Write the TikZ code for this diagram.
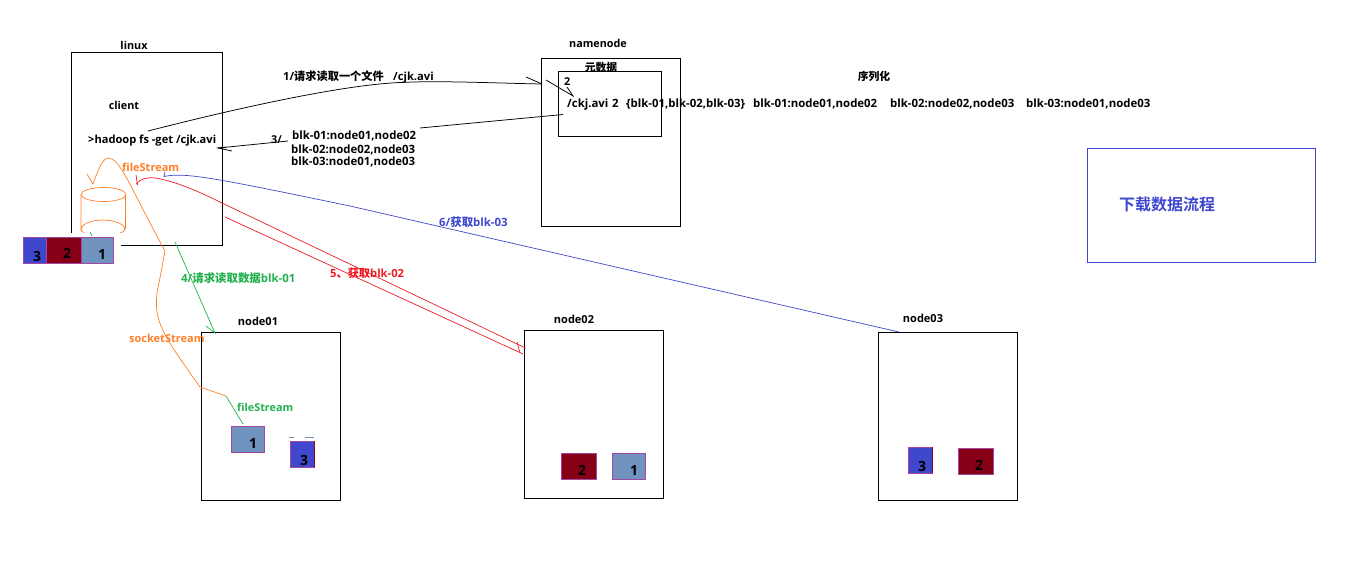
\documentclass[tikz,border=0pt]{standalone}
\usepackage{fontspec}
\setmainfont{Open Sans}[BoldFont={Open Sans Bold}]
\newfontfamily\cjk{Noto Sans CJK SC Bold}
\definecolor{blueb}{RGB}{63,72,204}
\definecolor{redb}{RGB}{136,0,21}
\definecolor{steelb}{RGB}{112,146,190}
\definecolor{purp}{RGB}{163,73,164}
\definecolor{oran}{RGB}{255,127,39}
\definecolor{grn}{RGB}{34,177,76}
\definecolor{redl}{RGB}{237,28,36}
\newcommand{\fs}[1]{\fontsize{#1}{12}\selectfont}
\tikzset{x=1pt,y=-1pt,
 box/.style={draw=black,line width=0.9pt,fill=none,inner sep=0,anchor=north west},
 blk/.style={draw=purp,line width=0.8pt,inner sep=0,anchor=north west},
 digit/.style={font=\bfseries\fontsize{14}{14}\selectfont,inner sep=0,text=black},
 lab/.style={font=\bfseries\fontsize{10.8}{12}\selectfont,inner sep=0,anchor=west,align=left},
 thin1/.style={line width=0.75pt},
 col/.style={line width=0.7pt},
}
\newcommand{\boxat}[5]{\node[#1,minimum width=#4pt,minimum height=#5pt] (#2) at #3 {};}
\begin{document}
\begin{tikzpicture}
\useasboundingbox (0,0) rectangle (1364,570);
% boxes
\boxat{box}{linux}{(70.5,51.5)}{151}{193}
\fill[white] (60,232.5) rectangle (120.5,250);
\boxat{box}{nn}{(540.5,57.5)}{139}{168}
\boxat{box}{meta}{(557.5,70.5)}{103}{65}
\boxat{box}{n1}{(200.5,331.5)}{139}{168}
\boxat{box}{n2}{(523.5,329.5)}{139}{168}
\boxat{box}{n3}{(877.5,331.5)}{139}{168}
\node[draw=blueb,line width=0.75pt,inner sep=0,anchor=north west,minimum width=228pt,minimum height=114pt] (title) at (1086.5,147.5) {};
% labels
\node[lab,anchor=center] (tlinux) at (134,45) {linux};
\node[lab,anchor=center] (tclient) at (124,105) {client};
\node[lab,font=\bfseries\fs{11.1}] (tcmd) at (88,141) {>hadoop fs -get /cjk.avi};
\node[lab,anchor=center] (tnn) at (598,43.5) {namenode};
\node[lab,anchor=center] (tmeta) at (601,67) {\cjk 元数据};
\node[lab] (t2) at (564,82) {2};
\node[lab,font=\bfseries\fs{11.4}] (tmain) at (567,105) {\makebox[45pt][l]{/ckj.avi}\makebox[14pt][l]{2}\makebox[127pt][l]{\{blk-01,blk-02,blk-03\}}\makebox[137pt][l]{blk-01:node01,node02}\makebox[136pt][l]{blk-02:node02,node03}blk-03:node01,node03};
\node[lab,anchor=center] (tser) at (874,76) {\cjk 序列化};
\node[lab,font=\bfseries\fs{11.2}] (t1) at (283,77) {\makebox[110pt][l]{1/{\cjk 请求读取一个文件}}/cjk.avi};
\node[lab] (t3) at (271,140) {3/};
\node[lab,font=\bfseries\fs{11.4}] (tb1) at (292,136) {blk-01:node01,node02};
\node[lab,font=\bfseries\fs{11.4}] (tb2) at (291,150) {blk-02:node02,node03};
\node[lab,font=\bfseries\fs{11.4}] (tb3) at (291,162) {blk-03:node01,node03};
\node[lab,text=blueb,font=\cjk\fontsize{16}{16}\selectfont] (ttitle) at (1119,204) {下载数据流程};
\node[lab,text=oran,font=\bfseries\fs{11}] (tfs) at (122,167) {fileStream};
\node[lab,text=oran,font=\bfseries\fs{11}] (tss) at (129,338) {socketStream};
\node[lab,text=grn,font=\bfseries\fs{11.4}] (t4) at (181,278) {4/{\cjk 请求读取数据}blk-01};
\node[lab,text=grn] (tfs2) at (237,407) {fileStream};
\node[lab,text=redl,font=\bfseries\fs{11.2}] (t5) at (330,273) {5{\cjk 、获取}blk-02};
\node[lab,text=blueb,font=\bfseries\fs{11.4}] (t6) at (439,222) {6/{\cjk 获取}blk-03};
\node[lab,anchor=center,font=\bfseries\fs{11}] (tn1) at (258,321) {node01};
\node[lab,anchor=center,font=\bfseries\fs{11}] (tn2) at (574,319) {node02};
\node[lab,anchor=center,font=\bfseries\fs{11}] (tn3) at (923,318) {node03};
% free end points
\coordinate (a1s) at (148,131);
\coordinate (a1e) at (542,84);
\coordinate (a3s) at (563,114.5);
\coordinate (a3e) at (218,148);
\coordinate (r1s) at (136,184);
\coordinate (r1e) at (525.5,348);
\coordinate (r2s) at (225,217);
\coordinate (r2e) at (523,354);
\coordinate (b1s) at (164,176.5);
\coordinate (b1e) at (899,332);
\coordinate (g1s) at (175,242);
\coordinate (g1e) at (215,333);
\coordinate (g2s) at (226,396);
\coordinate (g2e) at (243,424);
% black connectors
\draw[thin1] (a1s) .. controls (230,110) and (340,85) .. (400,82.5) .. controls (440,80.5) and (490,83) .. (a1e);
\draw[thin1] (526,77) -- (a1e);
\draw[thin1] (546,80) -- (573,96) -- (567,87);
\draw[thin1] (a3s) -- (420,128);
\draw[thin1] (288,141) -- (a3e) -- (232,151);
\draw[line width=1pt] (a3e) -- (226,147.3);
% orange
\draw[oran,col] (103.5,194.5) ellipse (22.5pt and 7pt);
\draw[oran,col] (81,195) -- (81,229) .. controls (83,222) and (95,220) .. (103,220) .. controls (113,220) and (125,224) .. (125,229) .. controls (125,232) and (122,232.5) .. (120,232.5);
\draw[oran,col] (81,229) .. controls (81,231) and (82,232) .. (84,232.5);
\draw[oran,col] (125,195) -- (125,229);
\draw[oran,col] (87,174) -- (93,184) .. controls (98,170) and (103,158) .. (108,158) .. controls (120,158) and (128,183) .. (165,251) -- (159,283) .. controls (156,295) and (156,305) .. (157,312) .. controls (160,330) and (170,345) .. (200,387) -- (226,396);
% green
\draw[grn,col] (g1s) -- (g1e) -- (206,326);
\draw[grn,col] (g2s) -- (g2e);
\draw[grn,col] (90,232) -- (92,236);
% red
\draw[redl,col] (136,175) -- (137.5,185);
\draw[redl,col] (r1s) .. controls (140,179) and (147,177) .. (155,178) .. controls (175,181) and (200,192) .. (222,203) -- (r1e);
\draw[redl,col] (r2s) -- (r2e);
\draw[redl,col] (517,342) -- (520,353);
% blue
\draw[blueb,col] (165,172) -- (b1s) .. controls (185,172) and (215,178) .. (350,206) -- (b1e);
% blocks
\boxat{blk,fill=blueb}{la3}{(22.5,236.5)}{23}{26}
\boxat{blk,fill=redb}{la2}{(45.5,236.5)}{35}{26}
\boxat{blk,fill=steelb}{la1}{(80.5,236.5)}{32}{26}
\boxat{blk,fill=steelb}{b11}{(230.5,425.5)}{33}{26}
\boxat{blk,fill=blueb}{b13}{(289.5,440.5)}{24}{26}
\boxat{blk,fill=redb}{b22}{(560.5,452.5)}{35}{26}
\boxat{blk,fill=steelb}{b21}{(611.5,452.5)}{33}{26}
\boxat{blk,fill=blueb}{b33}{(907.5,446.5)}{24}{26}
\boxat{blk,fill=redb}{b32}{(957.5,447.5)}{35}{26}
\draw[redb,line width=0.8pt] (b13.north east) -- (b13.south east);
\draw[redb,line width=0.8pt] (b33.north east) -- (b33.south east);
\draw[steelb,line width=0.8pt] (289,437.5) -- (294,437.5) (305,437.5) -- (314,437.5);
% block digits
\node[digit] (d1) at (37,256) {3};
\node[digit] (d2) at (67,253) {2};
\node[digit] (d3) at (102,254) {1};
\node[digit] (d4) at (253,443) {1};
\node[digit] (d5) at (304,460) {3};
\node[digit] (d6) at (582,470) {2};
\node[digit] (d7) at (634,470) {1};
\node[digit] (d8) at (922,466) {3};
\node[digit] (d9) at (979,465) {2};
\end{tikzpicture}
\end{document}
